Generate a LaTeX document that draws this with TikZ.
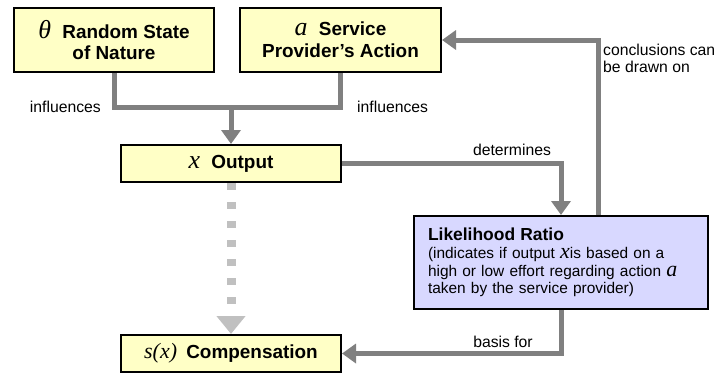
\documentclass[tikz,border=0pt]{standalone}
\usepackage{fontspec}
\setmainfont{Liberation Sans}
\newfontfamily\symfont{Liberation Serif}
\newcommand{\sym}[2][26]{{\symfont\mdseries\itshape\fontsize{#1}{#1}\selectfont #2}}
\usetikzlibrary{arrows.meta}
\definecolor{boxyellow}{HTML}{FFFFC6}
\definecolor{boxblue}{HTML}{D8D8FF}
\definecolor{linkgray}{HTML}{808080}
\definecolor{dashgray}{HTML}{C0C0C0}
\tikzset{
  yellowbox/.style={draw=black, line width=2bp, fill=boxyellow, align=center,
    font=\fontsize{19}{22}\selectfont\bfseries, inner sep=0pt},
  ratiobox/.style={draw=black, line width=2bp, fill=boxblue, align=left,
    minimum width=294bp, minimum height=93bp, text width=266bp,
    font=\fontsize{15.5}{17.8}\selectfont},
  link/.style={draw=linkgray, line width=5bp},
  flow/.style={link, -{Triangle[length=14bp,width=19bp]}},
  dashflow/.style={draw=dashgray, line width=9bp, dash pattern=on 7bp off 12bp,
    -{Triangle[length=18bp,width=28bp]}},
  lbl/.style={font=\fontsize{15.8}{17}\selectfont, inner sep=0pt}
}
\begin{document}
\begin{tikzpicture}[x=1bp, y=-1bp]  %likelihood ratio scheme
  \useasboundingbox (0,0) rectangle (719,375);
  % boxes
  \node[yellowbox, minimum width=200bp, minimum height=64bp] (nature) at (114,40)
    {\sym{θ}\hspace{6bp} Random State\\of Nature};
  \node[yellowbox, minimum width=201bp, minimum height=64bp] (action) at (340.5,40)
    {\sym{a}\hspace{6bp} Service\\Provider’s Action};
  \node[yellowbox, minimum width=220bp, minimum height=37bp] (output) at (231,163.5)
    {\sym{x}\hspace{6bp} Output};
  \node[yellowbox, minimum width=220bp, minimum height=37bp] (comp) at (231,353.5)
    {\sym[22]{s}\sym[22]{(}\sym[22]{x}\sym[22]{)}\hspace{4bp} Compensation};
  \node[ratiobox] (ratio) at (561,262.5)
    {{\fontsize{17.5}{17.8}\selectfont\bfseries Likelihood Ratio}\\
     (indicates if output \sym[22]{x}is based on a\\
     high or low effort regarding action \sym[22]{a}\\
     taken by the service provider)};
  % connectors
  \coordinate (join) at (231,107);
  \coordinate (back) at (598,40);
  \draw[link] (nature.south) |- (join) -| (action.south);
  \draw[flow] (join) -- (output.north);
  \draw[flow] (output.east) -| (ratio.north);
  \draw[flow] (ratio.north -| back) |- (action.east);
  \draw[flow] (ratio.south) |- (comp.east);
  \draw[dashflow] (output.south) -- (comp.north);
  % labels
  \node[lbl, anchor=east] (inf1) at (101,107) {influences};
  \node[lbl, anchor=west] (inf2) at (357,107) {influences};
  \node[lbl] (det) at (512,150) {determines};
  \node[lbl, anchor=north west, align=left] (concl) at (603,44)
    {conclusions can\\be drawn on};
  \node[lbl] (basis) at (503,342) {basis for};
\end{tikzpicture}
\end{document}
